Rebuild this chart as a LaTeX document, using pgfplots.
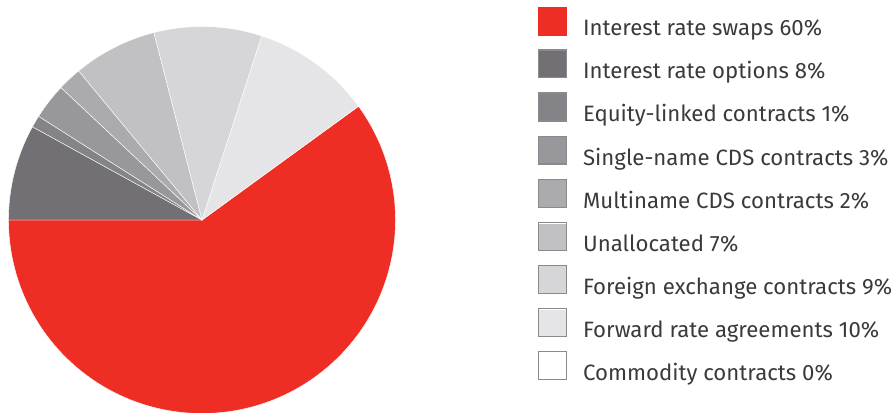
\documentclass[border=0pt]{standalone}
\usepackage{pgfplots}
\pgfplotsset{compat=1.18}
\usepackage{fontspec}
\setmainfont{Fira Sans}
\definecolor{cRed}{HTML}{EE2E24}
\definecolor{cOpt}{HTML}{727075}
\definecolor{cEq}{HTML}{848387}
\definecolor{cSng}{HTML}{98979B}
\definecolor{cMul}{HTML}{ABABAE}
\definecolor{cUna}{HTML}{C1C1C3}
\definecolor{cFx}{HTML}{D6D6D8}
\definecolor{cFra}{HTML}{E5E5E7}
\definecolor{cBox}{HTML}{8A8A8D}
\definecolor{cTxt}{HTML}{3A3A3C}
\pgfkeys{/tikz/legborder/.initial=cBox}
\begin{document}
\begin{tikzpicture}
\path[use as bounding box] (0,0) rectangle (896bp,413bp);
\begin{axis}[
  at={(8.5bp,-0.5bp)}, anchor=south west,
  scale only axis, width=387bp, height=387bp,
  xmin=-1, xmax=1, ymin=-1, ymax=1,
  hide axis, clip=false,
  legend style={at={(axis cs:1.7364,1.1018)}, anchor=north west,
    draw=none, fill=none, inner sep=0pt, outer sep=0pt,
    row sep=8.8bp, column sep=16bp,
    font=\fontsize{22.2bp}{26bp}\selectfont, text=cTxt,
    nodes={inner sep=0pt, text depth=5bp}},
  legend cell align=left,
  legend image code/.code={%
    \fill[#1] (0.6bp,-5.2bp) rectangle (28.4bp,22.6bp);
    \begin{scope}[#1]
    \draw[line width=1.3bp, draw=\pgfkeysvalueof{/tikz/legborder}, fill=none] (0.6bp,-5.2bp) rectangle (28.4bp,22.6bp);
    \end{scope}},
]
% slices: angle = 180 + 3.6 * cumulative percent (60,8,1,3,2,7,9,10,0)
\addplot[fill=cRed, draw=white, line width=0.4bp, legborder=cRed, domain=180:396, samples=120] ({cos(x)},{sin(x)}) -- (axis cs:0,0) -- cycle;
\addlegendentry{Interest rate swaps 60\%}
\addplot[fill=cOpt, draw=white, line width=0.4bp, domain=511.2:540, samples=20] ({cos(x)},{sin(x)}) -- (axis cs:0,0) -- cycle;
\addlegendentry{Interest rate options 8\%}
\addplot[fill=cEq, draw=white, line width=0.4bp, domain=507.6:511.2, samples=4] ({cos(x)},{sin(x)}) -- (axis cs:0,0) -- cycle;
\addlegendentry{Equity-linked contracts 1\%}
\addplot[fill=cSng, draw=white, line width=0.4bp, domain=496.8:507.6, samples=8] ({cos(x)},{sin(x)}) -- (axis cs:0,0) -- cycle;
\addlegendentry{Single-name CDS contracts 3\%}
\addplot[fill=cMul, draw=white, line width=0.4bp, domain=489.6:496.8, samples=6] ({cos(x)},{sin(x)}) -- (axis cs:0,0) -- cycle;
\addlegendentry{Multiname CDS contracts 2\%}
\addplot[fill=cUna, draw=white, line width=0.4bp, domain=464.4:489.6, samples=16] ({cos(x)},{sin(x)}) -- (axis cs:0,0) -- cycle;
\addlegendentry{Unallocated 7\%}
\addplot[fill=cFx, draw=white, line width=0.4bp, domain=432:464.4, samples=20] ({cos(x)},{sin(x)}) -- (axis cs:0,0) -- cycle;
\addlegendentry{Foreign exchange contracts 9\%}
\addplot[fill=cFra, draw=white, line width=0.4bp, domain=396:432, samples=22] ({cos(x)},{sin(x)}) -- (axis cs:0,0) -- cycle;
\addlegendentry{Forward rate agreements 10\%}
\addlegendimage{fill=white}
\addlegendentry{Commodity contracts 0\%}
\end{axis}
\end{tikzpicture}
\end{document}
